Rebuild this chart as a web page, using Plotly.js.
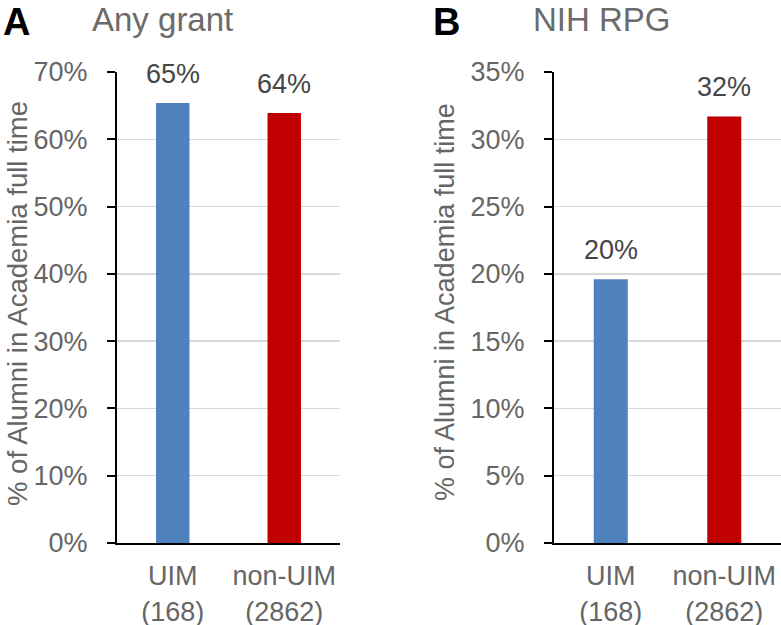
<!DOCTYPE html>
<html>
<head>
<meta charset="utf-8">
<script src="https://cdn.plot.ly/plotly-3.0.1.min.js"></script>
<style>
html,body{margin:0;padding:0;background:#fff;}
#chart{width:781px;height:625px;}
</style>
</head>
<body>
<div id="chart"></div>
<script>
// Data
const categories = ["UIM<br>(168)", "non-UIM<br>(2862)"];
const anyGrantValues = [65.4, 63.9];
const anyGrantLabels = ["65%", "64%"];
const nihRpgValues = [19.6, 31.7];
const nihRpgLabels = ["20%", "32%"];
const barColors = ["#4f81bd", "#c00000"];
const panelTitles = ["Any grant", "NIH RPG"];
const panelLetters = ["A", "B"];
const yTitle = "% of Alumni in Academia full time";

const W = 781, H = 625;
const FONT = "Liberation Sans, Arial, sans-serif";
const px = v => v / W;
const py = v => 1 - v / H;

const traces = [
  {type: "bar", x: categories, y: anyGrantValues, xaxis: "x", yaxis: "y",
   width: 0.3, marker: {color: barColors}, hoverinfo: "skip"},
  {type: "bar", x: categories, y: nihRpgValues, xaxis: "x2", yaxis: "y2",
   width: 0.3, marker: {color: barColors}, hoverinfo: "skip"}
];

function xAxis(domain, anchor) {
  return {
    domain: domain, anchor: anchor, type: "category", range: [-0.5, 1.5],
    showline: true, linecolor: "#000", linewidth: 2,
    ticks: "", showgrid: false, zeroline: false,
    tickfont: {family: FONT, size: 27, color: "#666666"},
    ticklabelstandoff: 8, fixedrange: true
  };
}
function yAxis(domain, anchor, max, dtick) {
  return {
    domain: domain, anchor: anchor, range: [0, max], dtick: dtick, tick0: 0,
    ticksuffix: "%", showline: true, linecolor: "#000", linewidth: 2,
    ticks: "outside", ticklen: 8, tickwidth: 2, tickcolor: "#000",
    showgrid: true, gridcolor: "#d9d9d9", gridwidth: 1.5, zeroline: false,
    tickfont: {family: FONT, size: 27, color: "#666666"},
    ticklabelstandoff: 14, fixedrange: true
  };
}

const yDom = [py(543), py(72)];
const annotations = [];
// Data labels
anyGrantValues.forEach((v, i) => annotations.push({
  xref: "x", yref: "y", x: categories[i], y: v, text: anyGrantLabels[i],
  showarrow: false, yanchor: "bottom", yshift: 12,
  font: {family: FONT, size: 27, color: "#454545"}
}));
nihRpgValues.forEach((v, i) => annotations.push({
  xref: "x2", yref: "y2", x: categories[i], y: v, text: nihRpgLabels[i],
  showarrow: false, yanchor: "bottom", yshift: 12,
  font: {family: FONT, size: 27, color: "#454545"}
}));
// Panel letters and titles
[[2, 91], [432, 532]].forEach((pos, i) => {
  annotations.push({
    xref: "paper", yref: "paper", x: px(pos[0]), y: 1, xanchor: "left", yanchor: "top",
    borderpad: 0,
    text: "<b>" + panelLetters[i] + "</b>", showarrow: false,
    font: {family: FONT, size: 38, color: "#000"}
  });
  annotations.push({
    xref: "paper", yref: "paper", x: px(pos[1]), y: 1, xanchor: "left", yanchor: "top",
    borderpad: 0,
    text: panelTitles[i], showarrow: false,
    font: {family: FONT, size: 33, color: "#6b6b6b"}
  });
});
// Y-axis titles
[[18, 304, 27.5], [445, 302, 27]].forEach(p => annotations.push({
  xref: "paper", yref: "paper", x: px(p[0]), y: py(p[1]), xanchor: "center", yanchor: "middle",
  text: yTitle, textangle: -90, showarrow: false,
  font: {family: FONT, size: p[2], color: "#666666"}
}));

const layout = {
  width: W, height: H,
  margin: {l: 0, r: 0, t: 0, b: 0},
  paper_bgcolor: "#fff", plot_bgcolor: "#fff",
  showlegend: false, bargap: 0.7,
  xaxis: xAxis([px(117), px(340)], "y"),
  yaxis: yAxis(yDom, "x", 70, 10),
  xaxis2: xAxis([px(554), 1], "y2"),
  yaxis2: yAxis(yDom, "x2", 35, 5),
  annotations: annotations
};

Plotly.newPlot("chart", traces, layout, {displayModeBar: false, staticPlot: true});
</script>
</body>
</html>
